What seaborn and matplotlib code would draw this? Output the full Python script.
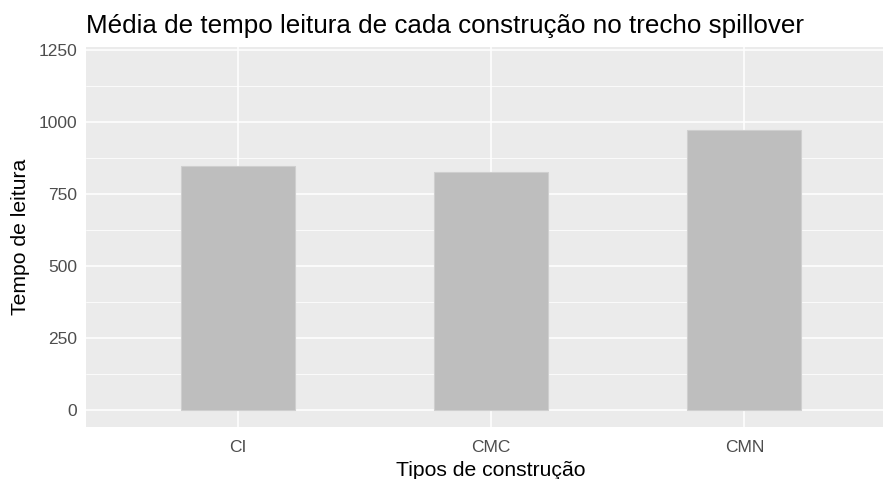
import matplotlib
matplotlib.use('Agg')
import matplotlib.pyplot as plt
import seaborn as sns
import pandas as pd
from matplotlib.ticker import MultipleLocator

# Data
construcoes = ['CI', 'CMC', 'CMN']
tempo_medio = [848, 826, 973]
y_ticks = [0, 250, 500, 750, 1000, 1250]

df = pd.DataFrame({'construcao': construcoes, 'tempo': tempo_medio})

sns.set_style('white')
plt.rcParams['font.family'] = ['Liberation Sans', 'DejaVu Sans']

fig = plt.figure(figsize=(8.83, 4.79), dpi=100)
ax = fig.add_axes([86 / 883, 1 - 427 / 479, 1 - 86 / 883, (427 - 47) / 479])
ax.set_facecolor('#ebebeb')

sns.barplot(data=df, x='construcao', y='tempo', ax=ax, color='#bebebe',
            saturation=1, width=0.45, edgecolor='#cfcfcf', linewidth=0.8,
            errorbar=None, zorder=3)

# grid like ggplot2 theme_gray
ax.set_yticks(y_ticks)
ax.yaxis.set_minor_locator(MultipleLocator(125))
ax.grid(which='major', axis='both', color='white', linewidth=1.1, zorder=0)
ax.grid(which='minor', axis='y', color='white', linewidth=0.55, zorder=0)
ax.set_axisbelow(True)
for s in ax.spines.values():
    s.set_visible(False)

ax.set_ylim(-60, 1260)
ax.set_xlim(-0.6, 2.547)

ax.tick_params(axis='both', which='major', length=3.5, width=1, color='#333333',
               labelcolor='#4d4d4d', labelsize=12.5)
ax.tick_params(axis='x', pad=6)
ax.tick_params(axis='y', pad=3)
ax.tick_params(axis='y', which='minor', length=0)

ax.set_xlabel('Tipos de construção', fontsize=15.2, color='black', labelpad=3)
ax.xaxis.set_label_coords((491 - 86) / 797, -0.09)
ax.set_ylabel('Tempo de leitura', fontsize=15.2, color='black', labelpad=6)
fig.text(86 / 883, 1 - 26 / 479, 'Média de tempo leitura de cada construção no trecho spillover',
         fontsize=18.7, color='black', ha='left', va='center')

fig.savefig('out.png', dpi=100)
plt.close(fig)
